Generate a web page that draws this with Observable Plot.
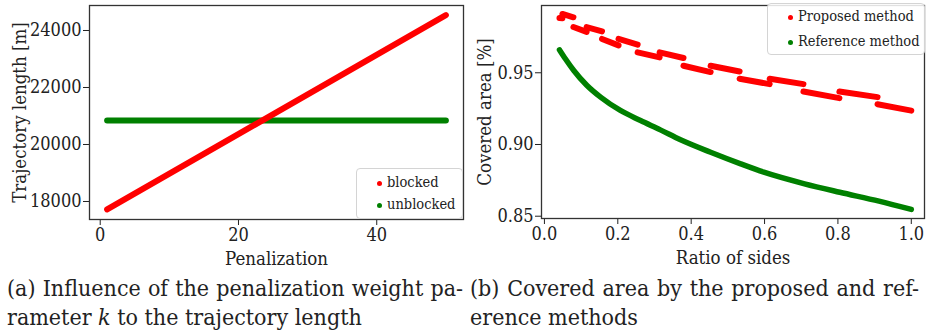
<!DOCTYPE html>
<html><head><meta charset="utf-8">
<script src="https://cdn.jsdelivr.net/npm/d3@7"></script>
<script src="https://cdn.jsdelivr.net/npm/@observablehq/plot@0.6"></script>
<style>
body{margin:0;background:#fff;}
#wrap{position:relative;width:929px;height:335px;font-family:"DejaVu Serif Condensed","Liberation Serif",serif;color:#222;overflow:hidden;}
.panel{position:absolute;top:0;}
.legend{position:absolute;border:1px solid #d4d4d4;border-radius:4px;background:rgba(255,255,255,0.85);box-sizing:border-box;}
.item{position:absolute;left:0;white-space:nowrap;font-size:14.5px;line-height:20px;}
.dot{position:absolute;width:5px;height:5px;border-radius:50%;}
.cap{position:absolute;font-size:23px;line-height:29px;}
.cap .l1{text-align:justify;text-align-last:justify;white-space:nowrap;}
</style></head>
<body><div id="wrap"></div>
<script>
// ---- Data (a) ----
const penalization = [1, 50];
const blocked = [17720, 24540];
const unblocked = [20840, 20840];
const yTicksA = [18000, 20000, 22000, 24000];
const xTicksA = [0, 20, 40];

// ---- Data (b) ----
const ratioBreaks = [0.041, 0.049, 0.079, 0.115, 0.157, 0.202, 0.254, 0.314, 0.379, 0.453, 0.532, 0.614, 0.706, 0.804, 0.908, 1.0];
const proposedStart = [0.9882, 0.9910, 0.9819, 0.9819, 0.9736, 0.9736, 0.9642, 0.9642, 0.9549, 0.9549, 0.9458, 0.9458, 0.9369, 0.9369, 0.9281];
const proposedEnd   = [0.9880, 0.9887, 0.9785, 0.9789, 0.9691, 0.9696, 0.9607, 0.9603, 0.9505, 0.9509, 0.9421, 0.9421, 0.9323, 0.9330, 0.9236];
const refRatio   = [0.041, 0.057, 0.080, 0.116, 0.153, 0.207, 0.262, 0.316, 0.371, 0.453, 0.535, 0.598, 0.709, 0.805, 0.912, 1.0];
const refCovered = [0.9660, 0.9598, 0.9516, 0.9411, 0.9330, 0.9237, 0.9167, 0.9102, 0.9033, 0.8946, 0.8865, 0.8807, 0.8726, 0.8667, 0.8605, 0.8547];
const yTicksB = [0.85, 0.90, 0.95];
const xTicksB = [0.0, 0.2, 0.4, 0.6, 0.8, 1.0];

const RED = "#ff0000", GREEN = "#008000", AX = "#333";
const wrap = document.getElementById("wrap");
const FONT = "'DejaVu Serif Condensed', 'Liberation Serif', serif";
const font = {fontFamily: FONT, fontSize: "18px", color: "#222", background: "transparent", overflow: "visible"};

const aLine = penalization.map((k, i) => ({k, blocked: blocked[i], unblocked: unblocked[i]}));
const plotA = Plot.plot({
  width: 470, height: 270, marginLeft: 89, marginRight: 7, marginTop: 5, marginBottom: 51,
  style: font,
  x: {domain: [-1.55, 52.55], ticks: xTicksA, tickFormat: d => String(d), tickSize: 6, tickPadding: 3,
      label: "Penalization", labelAnchor: "center", labelOffset: 45, labelArrow: "none"},
  y: {domain: [17368, 24877], ticks: yTicksA, tickFormat: d => String(d), tickSize: 6, tickPadding: 2,
      label: "Trajectory length [m]", labelAnchor: "center", labelOffset: 77, labelArrow: "none"},
  marks: [
    Plot.line(aLine, {x: "k", y: "unblocked", stroke: GREEN, strokeWidth: 6, strokeLinecap: "round"}),
    Plot.line(aLine, {x: "k", y: "blocked", stroke: RED, strokeWidth: 6, strokeLinecap: "round"}),
    Plot.frame({stroke: AX, strokeWidth: 1.3})
  ]
});
plotA.classList.add("panel"); plotA.style.left = "0px";
wrap.appendChild(plotA);

const segs = proposedStart.map((s, i) => ({x1: ratioBreaks[i], x2: ratioBreaks[i + 1], y1: s, y2: proposedEnd[i]}));
const ref = refRatio.map((r, i) => ({r, v: refCovered[i]}));
const plotB = Plot.plot({
  width: 459, height: 270, marginLeft: 71, marginRight: 5, marginTop: 5, marginBottom: 52,
  style: font,
  x: {domain: [-0.008, 1.036], ticks: xTicksB, tickFormat: d3.format(".1f"), tickSize: 6, tickPadding: 3,
      label: "Ratio of sides", labelAnchor: "center", labelOffset: 45, labelArrow: "none"},
  y: {domain: [0.8484, 0.9969], ticks: yTicksB, tickFormat: d3.format(".2f"), tickSize: 6, tickPadding: 2,
      label: "Covered area [%]", labelAnchor: "center", labelOffset: 64, labelArrow: "none"},
  marks: [
    Plot.link(segs, {x1: "x1", y1: "y1", x2: "x2", y2: "y2", stroke: RED, strokeWidth: 6, strokeLinecap: "round"}),
    Plot.line(ref, {x: "r", y: "v", stroke: GREEN, strokeWidth: 5.5, strokeLinecap: "round", curve: "monotone-x"}),
    Plot.frame({stroke: AX, strokeWidth: 1.3})
  ]
});
plotB.classList.add("panel"); plotB.style.left = "470px";
wrap.appendChild(plotB);

for (const svg of [plotA, plotB]) {
  svg.querySelectorAll("g[aria-label='x-axis label'] text, g[aria-label='y-axis label'] text").forEach(t => t.style.fontSize = "18.5px");
}

function legend(left, top, w, h, items, dotX, textX, y0, dy) {
  const box = document.createElement("div");
  box.className = "legend";
  Object.assign(box.style, {left: left + "px", top: top + "px", width: w + "px", height: h + "px"});
  items.forEach(([label, color], i) => {
    const cy = y0 + i * dy;
    const d = document.createElement("div");
    d.className = "dot";
    Object.assign(d.style, {left: (dotX - 2.5) + "px", top: (cy - 2.5) + "px", background: color});
    box.appendChild(d);
    const t = document.createElement("div");
    t.className = "item";
    t.textContent = label;
    Object.assign(t.style, {left: textX + "px", top: (cy - 11) + "px"});
    box.appendChild(t);
  });
  wrap.appendChild(box);
}
legend(356, 168, 107, 51, [["blocked", RED], ["unblocked", GREEN]], 22, 30, 14, 22);
legend(767, 3, 158, 52, [["Proposed method", RED], ["Reference method", GREEN]], 22, 30, 13, 25);

function caption(left, width, l1, l2) {
  const c = document.createElement("div");
  c.className = "cap";
  Object.assign(c.style, {left: left + "px", top: "274px", width: width + "px"});
  const a = document.createElement("div"); a.className = "l1"; a.innerHTML = l1;
  const b = document.createElement("div"); b.innerHTML = l2;
  c.appendChild(a); c.appendChild(b);
  wrap.appendChild(c);
}
caption(7, 456, "(a) Influence of the penalization weight pa-", "rameter <i>k</i> to the trajectory length");
caption(470, 449, "(b) Covered area by the proposed and ref-", "erence methods");
</script></body></html>
